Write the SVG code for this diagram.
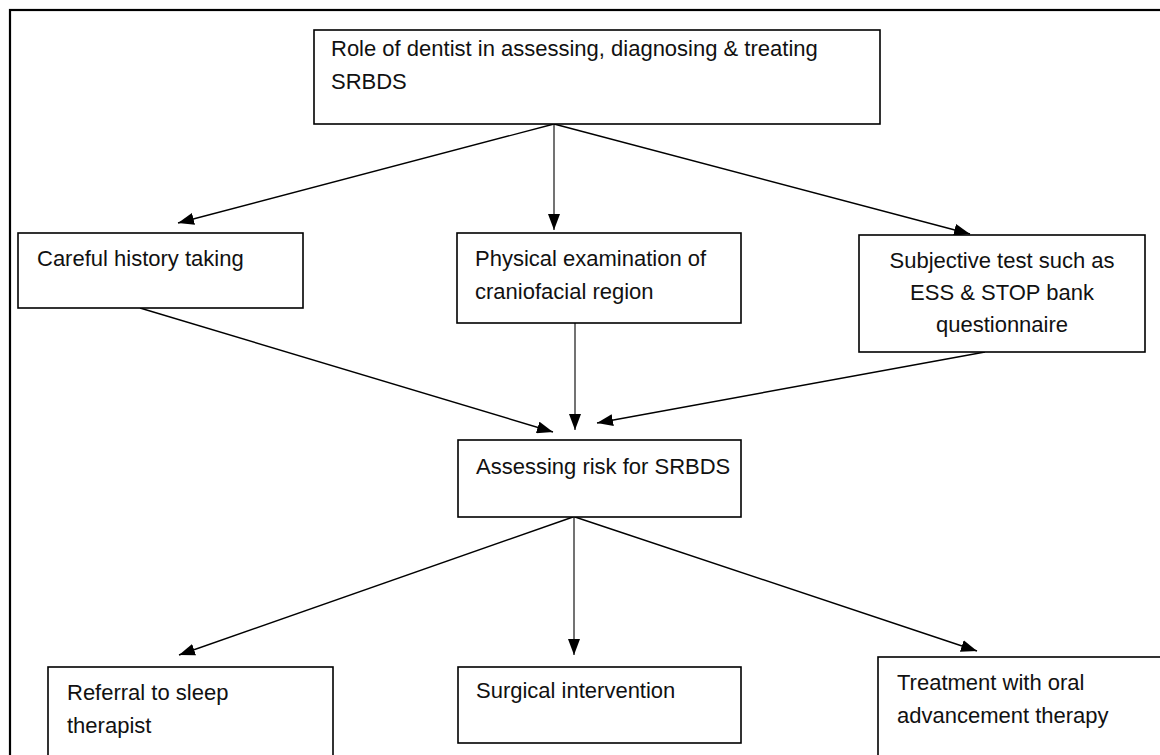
<svg xmlns="http://www.w3.org/2000/svg" width="1160" height="755" viewBox="0 0 1160 755">
<style>
.box{fill:#fff;stroke:#000;stroke-width:1.6}
.t{font-family:"Liberation Sans",Arial,sans-serif;font-size:22px;fill:#111}
.c{stroke:#000;stroke-width:1.4;fill:none;marker-end:url(#ah)}
.v{stroke:#444;stroke-width:1.5;fill:none;marker-end:url(#ah)}
</style>
<defs>
<marker id="ah" markerUnits="userSpaceOnUse" markerWidth="16" markerHeight="12" refX="16" refY="6" orient="auto">
<path d="M0,0 L16,6 L0,12 z" fill="#000"/>
</marker>
</defs>
<rect x="10" y="10" width="1160" height="760" fill="#fff" stroke="#000" stroke-width="2.2"/>
<g id="connectors">
<line class="c" x1="554" y1="124" x2="178" y2="223"/>
<line class="v" x1="554" y1="124" x2="554" y2="230"/>
<line class="c" x1="554" y1="124" x2="970" y2="234"/>
<line class="c" x1="140" y1="308" x2="553" y2="432"/>
<line class="v" x1="575" y1="323" x2="575" y2="430"/>
<line class="c" x1="985" y1="352" x2="597" y2="423"/>
<line class="c" x1="573" y1="517" x2="179" y2="655"/>
<line class="v" x1="574" y1="517" x2="574" y2="655"/>
<line class="c" x1="575" y1="517" x2="977" y2="651"/>
</g>
<g id="root">
<rect class="box" x="314" y="30" width="566" height="94"/>
<text class="t" x="331" y="56">Role of dentist in assessing, diagnosing &amp; treating</text>
<text class="t" x="331" y="89">SRBDS</text>
</g>
<g id="history">
<rect class="box" x="18" y="233" width="285" height="75"/>
<text class="t" x="37" y="266">Careful history taking</text>
</g>
<g id="physical">
<rect class="box" x="457" y="233" width="284" height="90"/>
<text class="t" x="475" y="266">Physical examination of</text>
<text class="t" x="475" y="299">craniofacial region</text>
</g>
<g id="subjective">
<rect class="box" x="859" y="235" width="286" height="117"/>
<text class="t" x="1002" y="268" text-anchor="middle">Subjective test such as</text>
<text class="t" x="1002" y="300" text-anchor="middle">ESS &amp; STOP bank</text>
<text class="t" x="1002" y="332" text-anchor="middle">questionnaire</text>
</g>
<g id="assess">
<rect class="box" x="458" y="440" width="283" height="77"/>
<text class="t" x="476" y="474">Assessing risk for SRBDS</text>
</g>
<g id="referral">
<rect class="box" x="48" y="667" width="285" height="100"/>
<text class="t" x="67" y="700">Referral to sleep</text>
<text class="t" x="67" y="733">therapist</text>
</g>
<g id="surgical">
<rect class="box" x="458" y="667" width="283" height="76"/>
<text class="t" x="476" y="698">Surgical intervention</text>
</g>
<g id="treatment">
<rect class="box" x="878" y="657" width="300" height="110"/>
<text class="t" x="897" y="690">Treatment with oral</text>
<text class="t" x="897" y="723">advancement therapy</text>
</g>
</svg>
